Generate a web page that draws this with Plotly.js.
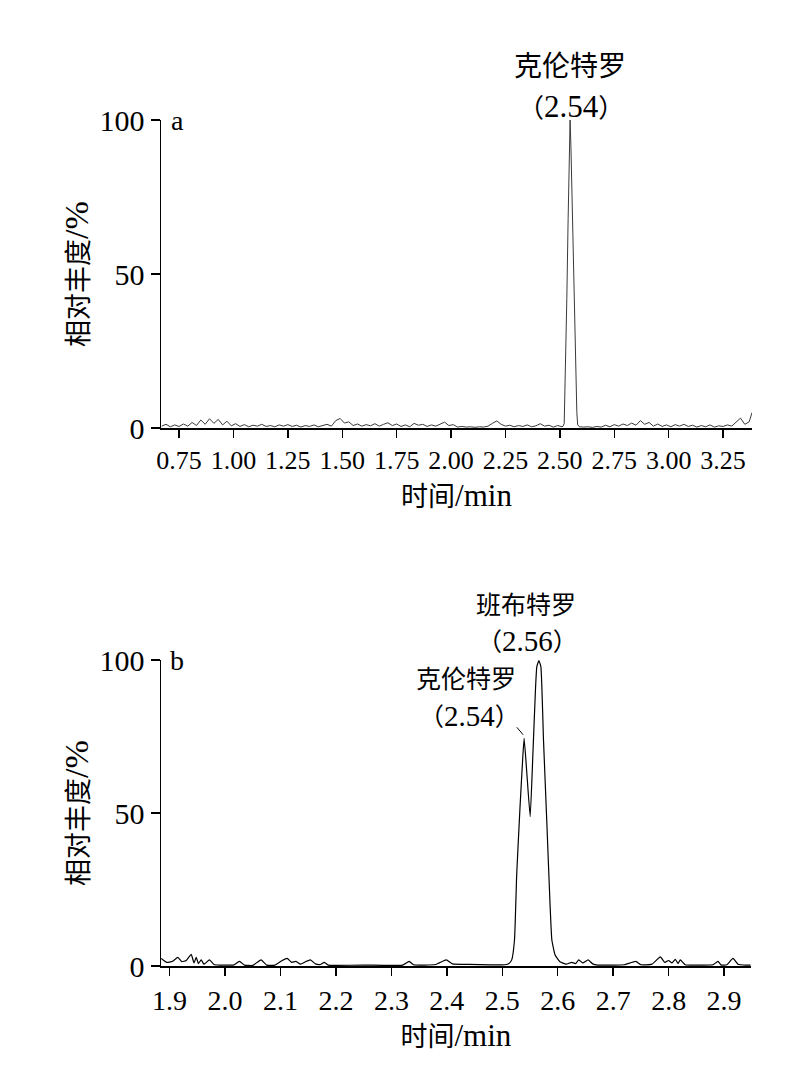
<!DOCTYPE html>
<html><head><meta charset="utf-8">
<script src="https://cdn.plot.ly/plotly-3.0.1.min.js"></script>
<style>html,body{margin:0;padding:0;background:#fff}</style>
</head><body><div id="chart" style="width:807px;height:1077px"></div>
<script>
// ---- Panel a: clenbuterol chromatogram ----
const timeA = [0.67,0.69,0.71,0.73,0.75,0.77,0.79,0.81,0.83,0.85,0.87,0.89,0.91,0.93,0.95,0.97,0.99,
  1.01,1.03,1.05,1.07,1.09,1.11,1.13,1.15,1.17,1.19,1.21,1.23,1.25,1.27,1.29,1.31,1.33,1.35,1.37,1.39,
  1.41,1.43,1.45,1.47,1.49,1.51,1.53,1.55,1.57,1.59,1.61,1.63,1.65,1.67,1.69,1.71,1.73,1.75,1.77,1.79,
  1.81,1.83,1.85,1.87,1.89,1.91,1.93,1.95,1.97,1.99,2.01,2.03,2.05,2.07,2.09,2.11,2.13,2.15,2.17,2.19,
  2.21,2.23,2.25,2.27,2.29,2.31,2.33,2.35,2.37,2.39,2.41,2.43,2.45,2.47,2.49,2.51,
  2.515,2.520,2.526,2.532,2.538,2.544,2.547,2.551,2.557,2.564,2.572,2.578,2.582,2.590,
  2.61,2.63,2.65,2.67,2.69,2.71,2.73,2.75,2.77,2.79,2.81,2.83,2.85,2.87,2.89,2.91,2.93,2.95,2.97,2.99,
  3.01,3.03,3.05,3.07,3.09,3.11,3.13,3.15,3.17,3.19,3.21,3.23,3.25,3.27,3.29,3.31,3.33,3.35,3.37,3.383];
const intensityA = [0.6,1.2,0.4,1.0,0.5,1.3,0.6,1.8,0.8,2.6,1.2,3.0,1.5,2.8,1.0,2.2,0.7,
  1.4,0.5,1.1,0.4,0.9,0.6,1.2,0.5,0.8,0.4,1.0,0.6,1.1,0.5,0.9,0.3,0.8,0.5,1.0,0.4,
  0.7,1.2,0.6,2.4,3.1,1.6,2.0,0.8,1.3,0.6,1.1,0.7,1.4,0.6,1.2,1.7,0.8,1.3,0.5,1.0,
  0.4,1.5,0.9,1.2,0.5,1.0,0.6,1.3,1.9,0.8,1.1,0.3,0.5,0.3,0.4,0.2,0.4,0.3,0.6,1.5,
  2.3,1.2,0.6,0.9,0.4,0.8,0.5,1.0,0.4,0.7,1.4,0.6,0.9,0.3,0.8,0.4,
  0.6,1.5,20,42,68,90,100,91,70,45,20,5,1.0,0.4,
  0.3,0.4,0.2,0.5,0.3,0.9,0.4,1.1,0.6,1.3,0.8,1.6,0.9,2.4,1.2,1.8,0.6,1.3,0.5,1.0,
  0.4,1.1,0.6,1.2,0.5,0.9,0.3,0.8,0.4,1.0,0.3,0.7,0.5,1.0,0.6,2.0,3.2,1.2,2.0,5.0];

// ---- Panel b: clenbuterol + bambuterol chromatogram ----
const timeB = [1.885,1.895,1.905,1.915,1.922,1.93,1.939,1.944,1.948,1.952,1.957,1.962,1.972,1.98,1.99,
  2.00,2.015,2.026,2.035,2.05,2.065,2.075,2.09,2.103,2.112,2.12,2.128,2.136,2.145,2.154,2.163,2.172,
  2.179,2.186,2.2,2.25,2.32,2.332,2.34,2.38,2.399,2.41,2.44,2.48,2.505,2.512,2.517,2.522,2.526,2.532,
  2.537,2.5394,2.5443,2.5503,2.555,2.5598,2.5623,2.566,2.5696,2.5743,2.5804,2.5863,2.5894,2.5953,2.604,
  2.615,2.625,2.632,2.638,2.645,2.655,2.663,2.672,2.7,2.72,2.741,2.75,2.77,2.785,2.793,2.8,2.806,2.812,
  2.817,2.821,2.83,2.86,2.88,2.889,2.895,2.905,2.916,2.925,2.94,2.948];
const intensityB = [2.5,1.2,1.5,2.8,1.4,1.8,3.8,1.0,2.8,0.8,2.0,0.6,2.0,0.5,0.3,
  0.3,0.3,1.5,0.3,0.2,2.0,0.3,0.3,1.8,2.5,1.2,1.5,0.6,1.4,2.0,0.7,0.5,
  1.2,0.3,0.2,0.3,0.3,1.5,0.4,0.5,2.0,0.7,0.5,0.4,0.4,0.8,2.0,8.5,30,52,
  68.4,74.4,63,48.8,68.4,90.2,97.8,99.8,97.8,73.9,46.6,19.4,8.5,3.6,1.4,
  0.6,1.2,0.8,2.0,1.0,2.0,0.7,0.3,0.3,0.4,1.5,0.4,0.6,3.0,1.2,1.8,1.0,2.2,
  0.8,2.0,0.4,0.3,0.4,1.5,0.3,0.4,2.5,0.6,0.3,0.3];

// ---- ticks and labels ----
const tickValsA = [0.75,1.00,1.25,1.50,1.75,2.00,2.25,2.50,2.75,3.00,3.25];
const tickTextA = ['0.75','1.00','1.25','1.50','1.75','2.00','2.25','2.50','2.75','3.00','3.25'];
const tickValsB = [1.9,2.0,2.1,2.2,2.3,2.4,2.5,2.6,2.7,2.8,2.9];
const tickTextB = ['1.9','2.0','2.1','2.2','2.3','2.4','2.5','2.6','2.7','2.8','2.9'];
const tickValsY = [0,50,100];
const xTitleCJK = '时间', xTitleUnit = '/min';
const yTitleCJK = '相对丰度', yTitleUnit = '/%';
const panelLabels = ['a','b'];
const peakA = {name: '克伦特罗', rt: '2.54'};
const peakB1 = {name: '班布特罗', rt: '2.56'};
const peakB2 = {name: '克伦特罗', rt: '2.54'};

// ---- geometry (pixel -> paper) ----
const L = 160.7, R = 752, T = 120, B = 966;
const W = R - L, H = B - T;
const px = p => (p - L) / W;
const py = p => (B - p) / H;

const FONT = 'Liberation Serif, Noto Sans CJK SC, serif';
const black = '#000';
const sz = (s, t) => '<span style="font-size:' + s + 'px">' + t + '</span>';
const mixed = (cjk, latin, latinSize) => cjk + sz(latinSize, latin);

function xAxis(range, tv, tt, size, anchor, dom) {
  return {
    domain: dom, anchor: anchor, range: range, tickvals: tv, ticktext: tt,
    ticks: 'outside', ticklen: 8, tickwidth: 1.5, tickcolor: black,
    showline: true, linecolor: black, linewidth: 2, showgrid: false, zeroline: false,
    tickfont: {family: FONT, size: size, color: black},
    title: {text: mixed(xTitleCJK, xTitleUnit, 31), font: {family: FONT, size: 27, color: black}, standoff: 13},
    fixedrange: true
  };
}
function yAxis(dom, anchor) {
  return {
    domain: dom, anchor: anchor, range: [0, 100], tickvals: tickValsY,
    ticks: 'outside', ticklen: 9, tickwidth: 1.5, tickcolor: black,
    showline: true, linecolor: black, linewidth: 1.5, showgrid: false, zeroline: false,
    tickfont: {family: FONT, size: 30, color: black},
    title: {text: mixed(yTitleCJK, yTitleUnit, 34), font: {family: FONT, size: 27, color: black}, standoff: 3},
    fixedrange: true
  };
}

const traces = [
  {x: timeA, y: intensityA, xaxis: 'x', yaxis: 'y', mode: 'lines',
   line: {color: '#3a3a3a', width: 1}, hoverinfo: 'skip'},
  {x: timeB, y: intensityB, xaxis: 'x2', yaxis: 'y2', mode: 'lines',
   line: {color: black, width: 1.2, shape: 'spline', smoothing: 0.4}, hoverinfo: 'skip'}
];

function txt(text, x, y, size) {
  return {text: text, xref: 'paper', yref: 'paper', x: px(x), y: py(y),
    xanchor: 'center', yanchor: 'middle', showarrow: false, borderpad: 0,
    font: {family: FONT, size: size, color: black}};
}
const rtText = (rt, numSize) => '（' + sz(numSize, rt) + '）';

const annotations = [
  txt(panelLabels[0], 177, 120, 28),
  txt(panelLabels[1], 177, 660, 28),
  txt(peakA.name, 570, 66, 28),
  txt(rtText(peakA.rt, 31), 571, 106, 26),
  txt(peakB1.name, 526, 605, 25),
  txt(rtText(peakB1.rt, 29), 527, 641, 25),
  txt(peakB2.name, 466, 679, 25),
  txt(rtText(peakB2.rt, 29), 469, 716, 25)
];

const shapes = [
  {type: 'line', xref: 'x2', yref: 'y2', x0: 2.5263, y0: 78.0, x1: 2.5375, y1: 75.6,
   line: {color: black, width: 1}}
];

const layout = {
  width: 807, height: 1077,
  margin: {l: L, r: 807 - R, t: T, b: 1077 - B, pad: 0},
  paper_bgcolor: '#fff', plot_bgcolor: '#fff', showlegend: false,
  xaxis: xAxis([0.667, 3.383], tickValsA, tickTextA, 26, 'y', [0, 1]),
  yaxis: yAxis([py(428), 1], 'x'),
  xaxis2: xAxis([1.8845, 2.948], tickValsB, tickTextB, 28, 'y2', [0, px(750.7)]),
  yaxis2: yAxis([0, py(660)], 'x2'),
  annotations: annotations,
  shapes: shapes
};

Plotly.newPlot('chart', traces, layout, {staticPlot: true, displayModeBar: false});
</script></body></html>
